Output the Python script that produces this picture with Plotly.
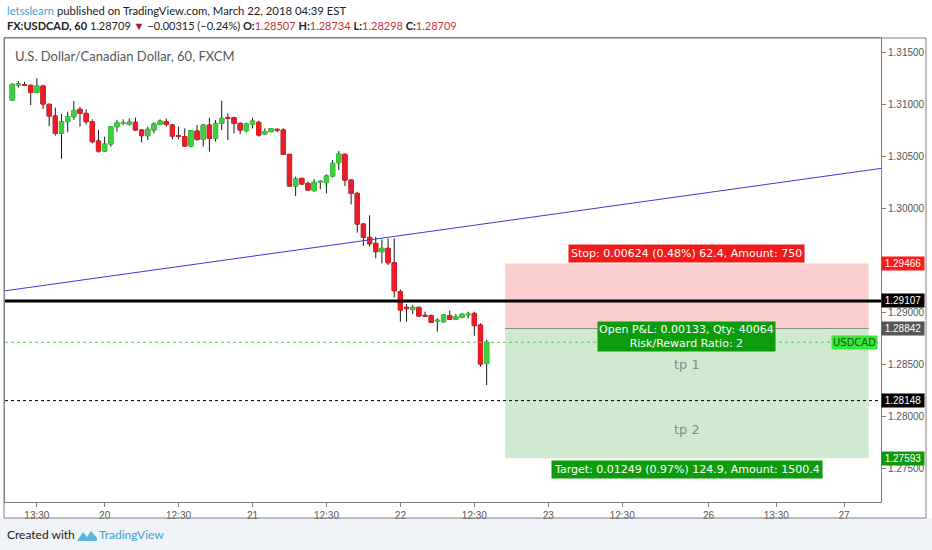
import plotly.graph_objects as go

# hourly FX:USDCAD bars, 19 Mar 09:30 .. 22 Mar 14:30 (chart time)
opens = [1.31038, 1.31183, 1.31186, 1.31180, 1.31112, 1.31173, 1.30997, 1.30885, 1.30718, 1.30830,
         1.30878, 1.30949, 1.30910, 1.30830, 1.30644, 1.30548, 1.30615, 1.30782, 1.30814, 1.30804,
         1.30824, 1.30750, 1.30696, 1.30750, 1.30804, 1.30830, 1.30798, 1.30696, 1.30686, 1.30596,
         1.30740, 1.30660, 1.30798, 1.30670, 1.30814, 1.30869, 1.30869, 1.30814, 1.30744, 1.30804,
         1.30824, 1.30712, 1.30734, 1.30757, 1.30750, 1.30516, 1.30212, 1.30285, 1.30237, 1.30167,
         1.30250, 1.30244, 1.30308, 1.30436, 1.30516, 1.30269, 1.30141, 1.29846, 1.29718, 1.29660,
         1.29580, 1.29612, 1.29474, 1.29196, 1.29045, 1.29026, 1.29045, 1.28968, 1.28965, 1.28913,
         1.28907, 1.28965, 1.28930, 1.28949, 1.28974, 1.28987, 1.28875, 1.28507]
highs = [1.31199, 1.31221, 1.31215, 1.31186, 1.31247, 1.31186, 1.31006, 1.30965, 1.30904, 1.30926,
         1.31029, 1.30974, 1.30949, 1.30853, 1.30750, 1.30686, 1.30788, 1.30846, 1.30853, 1.30862,
         1.30869, 1.30760, 1.30782, 1.30824, 1.30853, 1.30862, 1.30808, 1.30782, 1.30766, 1.30750,
         1.30798, 1.30808, 1.30869, 1.30846, 1.31032, 1.30910, 1.30878, 1.30824, 1.30820, 1.30869,
         1.30840, 1.30766, 1.30769, 1.30766, 1.30766, 1.30520, 1.30301, 1.30292, 1.30253, 1.30279,
         1.30269, 1.30324, 1.30462, 1.30548, 1.30526, 1.30276, 1.30157, 1.29853, 1.29930, 1.29724,
         1.29699, 1.29708, 1.29708, 1.29218, 1.29077, 1.29067, 1.29051, 1.29003, 1.28978, 1.28939,
         1.28981, 1.29013, 1.28981, 1.28987, 1.29003, 1.29003, 1.28891, 1.28734]
lows = [1.31032, 1.31157, 1.31176, 1.30990, 1.31105, 1.30952, 1.30788, 1.30696, 1.30474, 1.30728,
        1.30846, 1.30782, 1.30804, 1.30622, 1.30532, 1.30542, 1.30587, 1.30734, 1.30798, 1.30792,
        1.30740, 1.30631, 1.30654, 1.30718, 1.30795, 1.30782, 1.30660, 1.30660, 1.30590, 1.30583,
        1.30644, 1.30590, 1.30542, 1.30638, 1.30750, 1.30654, 1.30718, 1.30712, 1.30728, 1.30766,
        1.30686, 1.30708, 1.30731, 1.30728, 1.30510, 1.30205, 1.30115, 1.30221, 1.30164, 1.30157,
        1.30180, 1.30141, 1.30295, 1.30366, 1.30212, 1.30035, 1.29763, 1.29635, 1.29628, 1.29516,
        1.29468, 1.29452, 1.29141, 1.28907, 1.28907, 1.28981, 1.28955, 1.28952, 1.28898, 1.28811,
        1.28898, 1.28923, 1.28923, 1.28939, 1.28939, 1.28772, 1.28474, 1.28298]
closes = [1.31189, 1.31192, 1.31180, 1.31112, 1.31173, 1.31000, 1.30885, 1.30718, 1.30830, 1.30878,
          1.30939, 1.30910, 1.30830, 1.30638, 1.30548, 1.30615, 1.30782, 1.30820, 1.30820, 1.30827,
          1.30750, 1.30696, 1.30757, 1.30808, 1.30836, 1.30804, 1.30692, 1.30689, 1.30596, 1.30744,
          1.30660, 1.30798, 1.30670, 1.30814, 1.30862, 1.30865, 1.30814, 1.30750, 1.30808, 1.30836,
          1.30702, 1.30734, 1.30763, 1.30750, 1.30516, 1.30212, 1.30279, 1.30231, 1.30173, 1.30247,
          1.30256, 1.30308, 1.30430, 1.30519, 1.30269, 1.30141, 1.29846, 1.29718, 1.29656, 1.29580,
          1.29612, 1.29474, 1.29205, 1.29019, 1.29032, 1.29045, 1.28961, 1.28961, 1.28901, 1.28920,
          1.28971, 1.28930, 1.28955, 1.28978, 1.28978, 1.28869, 1.28500, 1.28709]

# time axis (bar index -> label), weekend bars skipped like TradingView
tick_bars = [4, 15, 27, 39, 51, 63, 75, 87, 99, 113, 124, 135]
tick_text = ['13:30', '20', '12:30', '21', '12:30', '22', '12:30', '23', '12:30', '26', '13:30', '27']
# price scale labels (1.29500 is hidden under the stop badge)
price_ticks = [1.275, 1.28, 1.285, 1.29, 1.30, 1.305, 1.31, 1.315]

# drawings on the chart
trend_bars = [-1.17, 141.0]
trend_prices = [1.29204, 1.30381]
support = 1.29107
tp_level = 1.28148
stop, entry, target = 1.29466, 1.28842, 1.27593
box_bars = [80, 139]

UP = '#3bd13b'
DOWN = '#ee1c25'
bars = list(range(len(opens)))
body_hi = [max(o, c) for o, c in zip(opens, closes)]
body_lo = [min(o, c) for o, c in zip(opens, closes)]

fig = go.Figure()
# wicks (black)
fig.add_trace(go.Candlestick(x=bars, open=opens, high=highs, low=lows, close=closes,
                             increasing=dict(line=dict(color='#1a1a1a', width=1), fillcolor=UP),
                             decreasing=dict(line=dict(color='#1a1a1a', width=1), fillcolor=DOWN),
                             hoverinfo='skip', showlegend=False))
# coloured bodies on top
fig.add_trace(go.Candlestick(x=bars, open=opens, high=body_hi, low=body_lo, close=closes,
                             increasing=dict(line=dict(color=UP, width=1), fillcolor=UP),
                             decreasing=dict(line=dict(color=DOWN, width=1), fillcolor=DOWN),
                             hoverinfo='skip', showlegend=False))

x_range = [-1.17, 141.0]
last = closes[-1]

# long position tool
fig.add_shape(type='rect', x0=box_bars[0], x1=box_bars[1], y0=entry, y1=stop,
              fillcolor='#fccfcf', line_width=0, layer='below')
fig.add_shape(type='rect', x0=box_bars[0], x1=box_bars[1], y0=target, y1=entry,
              fillcolor='#cfeacf', line_width=0, layer='below')
fig.add_shape(type='line', x0=box_bars[0], x1=box_bars[1], y0=entry, y1=entry,
              line=dict(color='#8a8a8a', width=1))

fig.add_shape(type='line', x0=trend_bars[0], x1=trend_bars[1], y0=trend_prices[0], y1=trend_prices[1],
              line=dict(color='#3b3bd6', width=1))
fig.add_shape(type='line', x0=x_range[0], x1=x_range[1], y0=support, y1=support,
              line=dict(color='black', width=3))
fig.add_shape(type='line', x0=x_range[0], x1=x_range[1], y0=tp_level, y1=tp_level,
              line=dict(color='black', width=1, dash='dot'))
fig.add_shape(type='line', x0=x_range[0], x1=x_range[1], y0=last, y1=last,
              line=dict(color='#4cd44c', width=1, dash='dot'))

# outer frame and bottom strip
fig.add_shape(type='rect', xref='paper', yref='paper', x0=-0.0057, x1=1.0582, y0=-0.1034, y1=-0.0345,
              fillcolor='#f0f3f7', line_width=0, layer='below')
fig.add_shape(type='rect', xref='paper', yref='paper', x0=-0.00114, x1=1.05137, y0=-0.0345, y1=1.0,
              line=dict(color='#808080', width=1))
# TradingView logo
fig.add_shape(type='path', xref='paper', yref='paper', xsizemode='pixel', ysizemode='pixel',
              xanchor=0.0822, yanchor=-0.086,
              path='M0,1 L6,10 L10,5 L14,11 L20,4 L20,1 Z',
              fillcolor='#5ab6e2', line_width=0)

mid_box = (box_bars[0] + box_bars[1]) / 2
label_font = dict(family='DejaVu Sans', size=11, color='white')
ann = [
    dict(x=mid_box, y=stop, yanchor='bottom', yshift=1, bgcolor='#f21b1b', borderpad=2,
         text='Stop: 0.00624 (0.48%) 62.4, Amount: 750', font=label_font),
    dict(x=mid_box, y=entry, yanchor='top', yshift=7, bgcolor='#0c9c0c', borderpad=1,
         text='Open P&amp;L: 0.00133, Qty: 40064<br>Risk/Reward Ratio: 2', font=label_font),
    dict(x=mid_box, y=target, yanchor='top', yshift=-2, bgcolor='#0c9c0c', borderpad=2,
         text='Target: 0.01249 (0.97%) 124.9, Amount: 1500.4', font=label_font),
    dict(x=mid_box, y=(entry + tp_level) / 2, text='tp 1',
         font=dict(family='DejaVu Sans', size=13, color='#7f8c8d')),
    dict(x=mid_box, y=(tp_level + target) / 2, text='tp 2',
         font=dict(family='DejaVu Sans', size=13, color='#7f8c8d')),
    dict(xref='paper', x=1, xanchor='right', xshift=-3, y=last, bgcolor='#38e838', borderpad=1,
         text='USDCAD', font=dict(family='DejaVu Sans', size=10, color='#145214')),
]
for a in ann:
    a.setdefault('xref', 'x')
    a['showarrow'] = False
    fig.add_annotation(**a)

# price badges on the scale
for price, bg in [(stop, '#ff1a1a'), (support, '#000000'), (entry, '#555555'),
                  (tp_level, '#000000'), (target, '#0e9a0e')]:
    fig.add_annotation(xref='paper', x=1, xanchor='left', xshift=0, y=price, yref='y',
                       text=f'{price:.5f}', bgcolor=bg, width=40, borderpad=1, showarrow=False,
                       font=dict(family='Liberation Sans', size=10, color='white'), align='center')

red = '#c8323a'
header1 = ("<span style='color:#3ba2d9'>letsslearn</span> published on TradingView.com, "
           "March 22, 2018 04:39 EST")
header2 = ("<b>FX:USDCAD, 60</b> 1.28709 <span style='color:#b01c1c'>▼</span> −0.00315 (−0.24%) "
           f"<b>O:</b><span style='color:{red}'>1.28507</span> <b>H:</b><span style='color:{red}'>1.28734</span> "
           f"<b>L:</b><span style='color:{red}'>1.28298</span> <b>C:</b><span style='color:{red}'>1.28709</span>")
fig.add_annotation(xref='paper', yref='paper', x=0, y=1.0582, xanchor='left', yanchor='middle',
                   text=header1, showarrow=False, font=dict(family='Lato', size=11.3, color='#222'))
fig.add_annotation(xref='paper', yref='paper', x=0, y=1.028, xanchor='left', yanchor='middle',
                   text=header2, showarrow=False, font=dict(family='Lato', size=11, color='#222'))
fig.add_annotation(xref='paper', yref='paper', x=0.0091, y=0.9612, xanchor='left', yanchor='middle',
                   text='U.S. Dollar/Canadian Dollar, 60, FXCM', showarrow=False,
                   font=dict(family='Lato', size=13, color='#555'))
fig.add_annotation(xref='paper', yref='paper', x=0, y=-0.0711, xanchor='left', yanchor='middle',
                   text="Created with <span style='color:#3ba2d9'>       TradingView</span>", showarrow=False,
                   font=dict(family='Lato', size=12, color='#222'))

fig.update_layout(
    width=932, height=550,
    margin=dict(l=5, r=51, t=38, b=48),
    paper_bgcolor='white', plot_bgcolor='white',
    font=dict(family='Liberation Sans', size=10, color='#555'),
    boxgap=0.32, boxgroupgap=0,
    showlegend=False,
    xaxis=dict(range=x_range, rangeslider=dict(visible=False), tickmode='array',
               tickvals=tick_bars, ticktext=tick_text, ticks='outside', ticklen=4,
               tickcolor='#808080', showgrid=False, zeroline=False, showline=True,
               linecolor='#808080', mirror=True, fixedrange=True),
    yaxis=dict(range=[1.27173, 1.31635], side='right', tickmode='array', tickvals=price_ticks,
               tickformat='.5f', ticks='outside', ticklen=4, tickcolor='#808080',
               showgrid=False, zeroline=False, showline=True, linecolor='#808080',
               mirror=True, fixedrange=True),
)

# page margin off so the figure sits at the window's top-left corner
fig.write_html("out.html", config={'displayModeBar': False},
               post_script="document.body.style.margin='0';")
